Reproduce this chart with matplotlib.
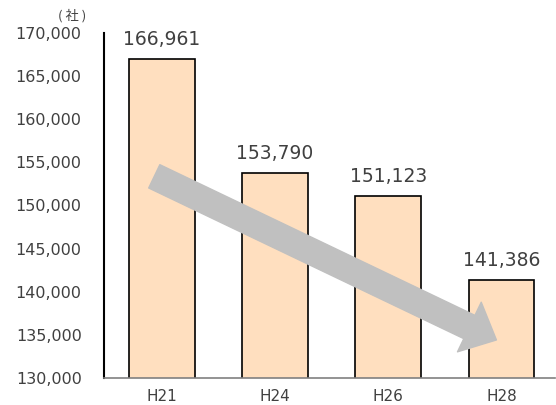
import matplotlib.pyplot as plt
from matplotlib.ticker import FuncFormatter

years = ["H21", "H24", "H26", "H28"]
companies = [166961, 153790, 151123, 141386]
yticks = list(range(130000, 170001, 5000))

# arrow from tail to tip (data coords)
arrow_tail = (-0.066, 153376)
arrow_tip = (2.954, 134408)

bar_color = "#FFDFBF"
text_color = "#404040"

fig = plt.figure(figsize=(5.56, 4.05), dpi=100)
ax = fig.add_axes([0.187, 0.0667, 0.811, 0.852])

x = range(len(years))
ax.bar(x, companies, width=0.58, color=bar_color, edgecolor="black", linewidth=1.2, zorder=2)

for i, v in zip(x, companies):
    ax.annotate("{:,}".format(v), (i, v), xytext=(0, 7), textcoords="offset points",
                ha="center", va="bottom", fontsize=13.5, color=text_color, zorder=4)

ax.annotate("", xy=arrow_tip, xytext=arrow_tail,
            arrowprops=dict(arrowstyle="simple,head_length=21.6,head_width=39.6,tail_width=18.6",
                            mutation_scale=1, color="#C0C0C0", shrinkA=0, shrinkB=0),
            zorder=3)

ax.set_ylim(130000, 170000)
ax.set_xlim(-0.51, 3.47)
ax.set_yticks(yticks)
ax.yaxis.set_major_formatter(FuncFormatter(lambda v, p: "{:,}".format(int(v))))
ax.set_xticks(list(x))
ax.set_xticklabels(years)
ax.tick_params(axis="y", length=0, pad=16, labelsize=11.5, labelcolor=text_color)
ax.tick_params(axis="x", length=0, pad=8, labelsize=11, labelcolor=text_color)

for d in ["top", "right"]:
    ax.spines[d].set_visible(False)
ax.spines["left"].set_color("black")
ax.spines["left"].set_linewidth(1.5)
ax.spines["bottom"].set_color("#808080")
ax.spines["bottom"].set_linewidth(1.2)

fig.text(0.104, 0.962, "( 社 )", ha="left", va="center", fontsize=9.5,
         family=["Noto Sans CJK JP", "DejaVu Sans"], color=text_color)

fig.savefig("out.png", dpi=100)
